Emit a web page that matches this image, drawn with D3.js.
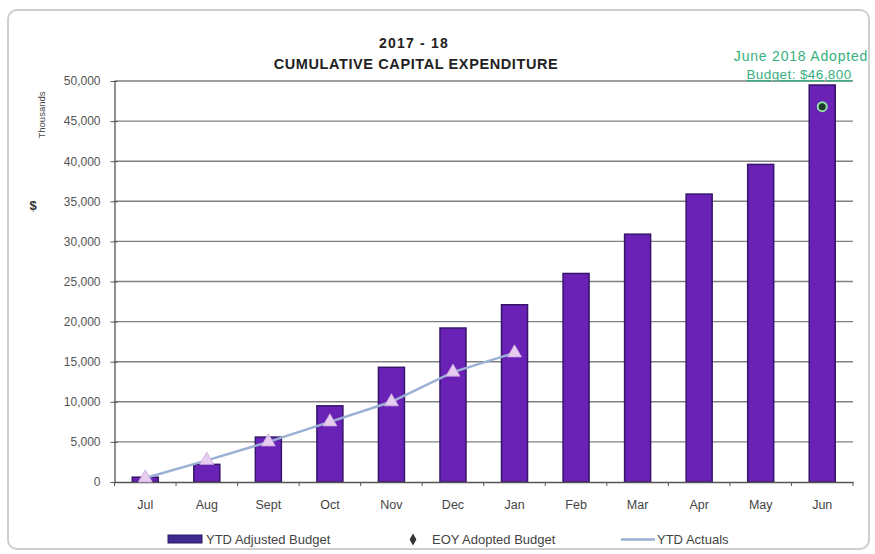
<!DOCTYPE html>
<html><head><meta charset="utf-8">
<script src="https://cdn.jsdelivr.net/npm/d3@7"></script>
<style>body{margin:0;background:#fff;font-family:"Liberation Sans",Arial,sans-serif;}</style>
</head><body><svg id="c" width="875" height="554"></svg>
<script>
const months = ["Jul","Aug","Sept","Oct","Nov","Dec","Jan","Feb","Mar","Apr","May","Jun"];
const ytdBudget = [600,2200,5600,9500,14300,19200,22100,26000,30900,35900,39600,49500];
const eoyMonths = ["Jun"];
const eoyBudget = [46800];
const ytdActualMonths = ["Jul","Aug","Sept","Oct","Nov","Dec","Jan"];
const ytdActuals = [500,2700,5000,7500,10000,13700,16100];
const yTicks = [0,5000,10000,15000,20000,25000,30000,35000,40000,45000,50000];

const svg = d3.select("#c");
svg.append("rect").attr("x",8).attr("y",10).attr("width",861).attr("height",539)
  .attr("rx",9).attr("fill","#fff").attr("stroke","#cfcfcf").attr("stroke-width",2);

const L=114.5, R=853, T=81, B=482;
const x = d3.scaleBand().domain(months).range([L,R]);
const y = d3.scaleLinear().domain([0,50000]).range([B,T]);

// gridlines
svg.append("g").selectAll("line").data(yTicks.filter(d=>d>0)).join("line")
  .attr("x1",L).attr("x2",R).attr("y1",d=>y(d)).attr("y2",d=>y(d))
  .attr("stroke","#808080").attr("stroke-width",1.4);

// y axis
const ya = svg.append("g").attr("transform",`translate(${L},0)`)
  .call(d3.axisLeft(y).tickValues(yTicks).tickFormat(d3.format(",")).tickSizeInner(4).tickSizeOuter(0).tickPadding(10));
ya.select(".domain").attr("stroke","#555").attr("stroke-width",1.3);
ya.selectAll(".tick line").attr("stroke","#555").attr("x2",3).attr("x1",-4);
ya.selectAll("text").attr("font-size",12).attr("fill","#555");

// bars
svg.append("g").selectAll("rect").data(ytdBudget).join("rect")
  .attr("x",(d,i)=>x(months[i])+x.bandwidth()/2-13)
  .attr("width",26)
  .attr("y",d=>y(d)).attr("height",d=>B-y(d))
  .attr("fill","#6a22b6").attr("stroke","#35156a").attr("stroke-width",1.5);

// x axis
const xa = svg.append("g").attr("transform",`translate(0,${B})`)
  .call(d3.axisBottom(x).tickSize(0).tickPadding(18));
xa.select(".domain").attr("stroke","#555").attr("stroke-width",1.3);
xa.selectAll("text").attr("font-size",12.5).attr("fill","#444");
svg.append("g").selectAll("line").data(d3.range(months.length+1)).join("line")
  .attr("x1",i=>L+i*x.step()).attr("x2",i=>L+i*x.step())
  .attr("y1",B).attr("y2",B+4).attr("stroke","#555");

// actuals line
const ax = m=>x(m)+x.bandwidth()/2;
svg.append("path").datum(ytdActuals)
  .attr("d",d3.line().x((d,i)=>ax(ytdActualMonths[i])).y(d=>y(d)))
  .attr("fill","none").attr("stroke","#9ab0d4").attr("stroke-width",2.5);
svg.append("g").selectAll("path").data(ytdActuals).join("path")
  .attr("d",d3.symbol(d3.symbolTriangle,85))
  .attr("transform",(d,i)=>`translate(${ax(ytdActualMonths[i])},${y(d)})`)
  .attr("fill","#e6cdf0").attr("stroke","#c9a7e0").attr("stroke-width",0.8);

// EOY point
svg.append("g").selectAll("circle").data(eoyBudget).join("circle")
  .attr("cx",(d,i)=>ax(eoyMonths[i])).attr("cy",d=>y(d)).attr("r",4.5)
  .attr("fill","#1f3b2a").attr("stroke","#8fe0a8").attr("stroke-width",2);

// titles
svg.append("text").attr("x",414).attr("y",48).attr("text-anchor","middle")
  .attr("font-size",14).attr("font-weight","bold").attr("letter-spacing",1.2).attr("fill","#222").text("2017 - 18");
svg.append("text").attr("x",416).attr("y",69).attr("text-anchor","middle")
  .attr("font-size",14.5).attr("font-weight","bold").attr("letter-spacing",0.6).attr("fill","#222").text("CUMULATIVE CAPITAL EXPENDITURE");

// annotation
svg.append("text").attr("x",801).attr("y",61).attr("text-anchor","middle")
  .attr("font-size",14).attr("letter-spacing",0.8).attr("fill","#35b07e").text("June 2018 Adopted");
svg.append("text").attr("x",799).attr("y",79).attr("text-anchor","middle")
  .attr("font-size",13.5).attr("letter-spacing",0.4).attr("fill","#35b07e").attr("text-decoration","underline").text("Budget: $46,800");

// y labels
svg.append("text").attr("x",33).attr("y",210).attr("text-anchor","middle")
  .attr("font-size",13).attr("font-weight","bold").attr("fill","#333").text("$");
svg.append("text").attr("transform","translate(45,115) rotate(-90)").attr("text-anchor","middle")
  .attr("font-size",9.5).attr("fill","#444").text("Thousands");

// legend
const lg = svg.append("g").attr("font-size",13).attr("fill","#444");
lg.append("rect").attr("x",168).attr("y",535).attr("width",34).attr("height",8)
  .attr("fill","#40298f").attr("stroke","#2c1a66");
lg.append("text").attr("x",206).attr("y",544).text("YTD Adjusted Budget");
lg.append("path").attr("d",d3.symbol(d3.symbolDiamond,40)).attr("transform","translate(413,539.5)").attr("fill","#333");
lg.append("text").attr("x",432).attr("y",544).text("EOY Adopted Budget");
lg.append("line").attr("x1",621).attr("x2",655).attr("y1",539.5).attr("y2",539.5).attr("stroke","#9ab0d4").attr("stroke-width",2.5);
lg.append("text").attr("x",657).attr("y",544).text("YTD Actuals");
</script></body></html>
